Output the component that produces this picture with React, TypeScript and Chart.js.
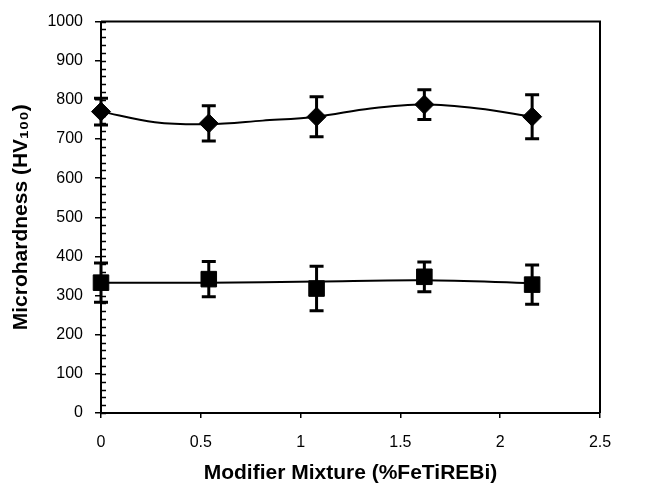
import React, { useEffect, useRef } from 'react';
import { Chart, registerables } from 'chart.js';

Chart.register(...registerables);

// Marker positions as they appear on the x axis of the picture
const xPositions = [0, 0.54, 1.08, 1.62, 2.16];
// Upper series (diamonds)
const diamondValues = [770, 740, 757, 788, 757];
const diamondErrors = [34, 45, 51, 38, 56];
// Lower series (squares)
const squareValues = [333, 342, 318, 348, 328];
const squareErrors = [50, 45, 57, 38, 50];
// Trend lines
const diamondTrendX = [0, 0.27, 0.54, 0.81, 1.08, 1.35, 1.62, 1.89, 2.16];
const diamondTrendY = [770, 743, 738, 747, 757, 778, 788, 778, 757];
const squareTrendX = [0, 0.54, 1.08, 1.62, 2.16];
const squareTrendY = [333, 333, 336, 339, 332];
// Axes
const xTickValues = [0, 0.5, 1, 1.5, 2, 2.5];
const yTickValues = [0, 100, 200, 300, 400, 500, 600, 700, 800, 900, 1000];
const xTitle = 'Modifier Mixture (%FeTiREBi)';
const yTitle = 'Microhardness (HV\u2081\u2080\u2080)';

const FONT = '"Liberation Sans", Arial, sans-serif';

const framePlugin = {
  id: 'frameAndMinor',
  afterDraw(chart: any) {
    const { ctx, chartArea, scales } = chart;
    const y = scales.y;
    ctx.save();
    ctx.strokeStyle = '#000';
    ctx.lineWidth = 2;
    ctx.beginPath();
    ctx.moveTo(chartArea.left, chartArea.top);
    ctx.lineTo(chartArea.right, chartArea.top);
    ctx.lineTo(chartArea.right, chartArea.bottom);
    ctx.stroke();
    // minor ticks on the y axis
    ctx.lineWidth = 1.5;
    ctx.beginPath();
    const yMin = yTickValues[0];
    const yMax = yTickValues[yTickValues.length - 1];
    for (let v = yMin; v <= yMax; v += 20) {
      const py = Math.round(y.getPixelForValue(v)) + 0.5;
      ctx.moveTo(chartArea.left, py);
      ctx.lineTo(chartArea.left + 5, py);
    }
    ctx.stroke();
    ctx.restore();
  },
};

const errorBarPlugin = {
  id: 'errorBars',
  afterDatasetsDraw(chart: any) {
    const { ctx, scales } = chart;
    const xs = scales.x;
    const ys = scales.y;
    ctx.save();
    ctx.strokeStyle = '#000';
    ctx.lineWidth = 3;
    chart.data.datasets.forEach((ds: any) => {
      if (!ds.errors) return;
      ds.data.forEach((pt: any, i: number) => {
        const e = ds.errors[i];
        const px = xs.getPixelForValue(pt.x);
        const top = ys.getPixelForValue(pt.y + e);
        const bot = ys.getPixelForValue(pt.y - e);
        ctx.beginPath();
        ctx.moveTo(px, top);
        ctx.lineTo(px, bot);
        ctx.moveTo(px - 7, top);
        ctx.lineTo(px + 7, top);
        ctx.moveTo(px - 7, bot);
        ctx.lineTo(px + 7, bot);
        ctx.stroke();
      });
    });
    ctx.restore();
  },
};

export default function App() {
  const canvasRef = useRef<HTMLCanvasElement | null>(null);

  useEffect(() => {
    if (!canvasRef.current) return;
    const toPts = (xs: number[], ys: number[]) => xs.map((x, i) => ({ x, y: ys[i] }));
    const chart = new Chart(canvasRef.current, {
      type: 'scatter',
      data: {
        datasets: [
          {
            label: 'trend upper',
            data: toPts(diamondTrendX, diamondTrendY),
            showLine: true,
            borderColor: '#000',
            borderWidth: 2,
            pointRadius: 0,
            tension: 0.35,
            clip: false,
          } as any,
          {
            label: 'trend lower',
            data: toPts(squareTrendX, squareTrendY),
            showLine: true,
            borderColor: '#000',
            borderWidth: 2,
            pointRadius: 0,
            tension: 0.35,
            clip: false,
          } as any,
          {
            label: 'upper',
            data: toPts(xPositions, diamondValues),
            errors: diamondErrors,
            pointStyle: 'rectRot',
            pointRadius: 9.5,
            backgroundColor: '#000',
            borderColor: '#000',
            borderWidth: 1,
            clip: false,
          } as any,
          {
            label: 'lower',
            data: toPts(xPositions, squareValues),
            errors: squareErrors,
            pointStyle: 'rect',
            pointRadius: 11,
            backgroundColor: '#000',
            borderColor: '#000',
            borderWidth: 1,
            clip: false,
          } as any,
        ],
      },
      options: {
        responsive: false,
        animation: false,
        devicePixelRatio: 1,
        layout: { autoPadding: false, padding: { top: 17, right: 51, left: 0, bottom: 0 } },
        plugins: {
          legend: { display: false },
          tooltip: { enabled: false },
        },
        scales: {
          x: {
            type: 'linear',
            min: xTickValues[0],
            max: xTickValues[xTickValues.length - 1],
            afterBuildTicks: (scale: any) => {
              scale.ticks = xTickValues.map((v) => ({ value: v }));
            },
            afterFit: (scale: any) => {
              scale.height = 78;
            },
            grid: { drawOnChartArea: false, drawTicks: true, tickLength: 5, color: '#000', lineWidth: 1.5 },
            border: { display: true, color: '#000', width: 2 },
            ticks: {
              color: '#000',
              font: { family: FONT, size: 16 },
              padding: 15,
              maxRotation: 0,
              callback: (v: any) => String(v),
            },
            title: {
              display: true,
              text: xTitle,
              color: '#000',
              font: { family: FONT, size: 21, weight: 'bold' },
              padding: { top: 0, bottom: 5 },
            },
          },
          y: {
            type: 'linear',
            min: yTickValues[0],
            max: yTickValues[yTickValues.length - 1],
            afterBuildTicks: (scale: any) => {
              scale.ticks = yTickValues.map((v) => ({ value: v }));
            },
            afterFit: (scale: any) => {
              scale.width = 101;
            },
            grid: { drawOnChartArea: false, drawTicks: true, tickLength: 6, color: '#000', lineWidth: 1.5 },
            border: { display: true, color: '#000', width: 2 },
            ticks: {
              color: '#000',
              font: { family: FONT, size: 16 },
              padding: 12,
              callback: (v: any) => String(v),
            },
            title: {
              display: true,
              text: yTitle,
              color: '#000',
              font: { family: FONT, size: 21, weight: 'bold' },
              padding: { top: 9, bottom: 0 },
            },
          },
        },
      },
      plugins: [errorBarPlugin, framePlugin],
    } as any);
    return () => chart.destroy();
  }, []);

  return (
    <div style={{ position: 'absolute', left: 0, top: 0, width: 651, height: 491, background: '#fff' }}>
      <canvas ref={canvasRef} width={651} height={491} />
    </div>
  );
}
